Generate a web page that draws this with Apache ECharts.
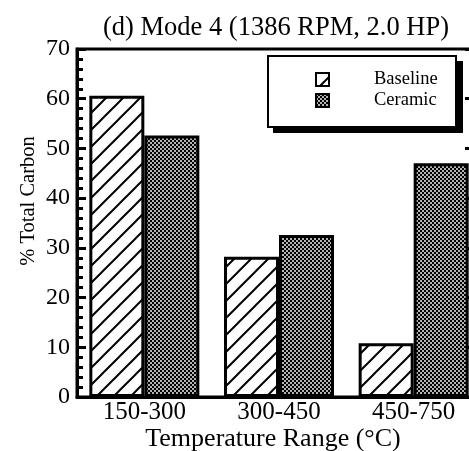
<!DOCTYPE html>
<html>
<head>
<meta charset="utf-8">
<script src="https://cdn.jsdelivr.net/npm/echarts@6/dist/echarts.min.js"></script>
<style>
  html, body { margin: 0; padding: 0; background: #fff; }
  #main { width: 469px; height: 451px; }
</style>
</head>
<body>
<div id="main"></div>
<script>
var categories = ['150-300', '300-450', '450-750'];
var baseline = [60.6, 28.2, 10.8];
var ceramic = [52.6, 32.6, 47.0];
var yTicks = [0, 10, 20, 30, 40, 50, 60, 70];

// hatch pattern for baseline
function hatch() {
    var c = document.createElement('canvas');
    c.width = 17; c.height = 17;
    var g = c.getContext('2d');
    g.fillStyle = '#fff';
    g.fillRect(0, 0, 17, 17);
    g.strokeStyle = '#000';
    g.lineWidth = 2;
    g.beginPath();
    g.moveTo(-2, 19); g.lineTo(19, -2);
    g.moveTo(-2, 2); g.lineTo(2, -2);
    g.moveTo(15, 19); g.lineTo(19, 15);
    g.stroke();
    return c;
}
// dotted pattern for ceramic
function dots() {
    var c = document.createElement('canvas');
    c.width = 4; c.height = 4;
    var g = c.getContext('2d');
    g.fillStyle = '#000';
    g.fillRect(0, 0, 4, 4);
    g.fillStyle = '#b4b4b4';
    g.fillRect(0, 0, 2, 2);
    g.fillRect(2, 2, 2, 2);
    return c;
}

var font = '"Liberation Serif", "Times New Roman", serif';
var myChart = echarts.init(document.getElementById('main'));
var option = {
    animation: false,
    title: {
        text: '(d) Mode 4 (1386 RPM, 2.0 HP)',
        left: 98,
        top: 10,
        textStyle: { fontFamily: font, fontSize: 26.5, fontWeight: 'normal', color: '#000' }
    },
    // legend frame with drop shadow
    graphic: [
        { type: 'rect', z: 10, shape: { x: 273, y: 61, width: 190, height: 72 }, style: { fill: '#000' } },
        { type: 'rect', z: 11, shape: { x: 268, y: 56, width: 188, height: 71 }, style: { fill: '#fff', stroke: '#000', lineWidth: 2 } }
    ],
    legend: {
        orient: 'vertical',
        left: 268,
        top: 56,
        z: 20,
        padding: [14, 22, 27, 47],
        icon: 'rect',
        itemWidth: 13,
        itemHeight: 13,
        itemGap: 2,
        itemStyle: { borderWidth: 2, borderColor: '#000' },
        textStyle: { fontFamily: font, fontSize: 18.5, color: '#000', lineHeight: 15, padding: [0, 0, 0, 40] },
        data: ['Baseline', 'Ceramic']
    },
    grid: {
        left: 77,
        top: 49,
        width: 404,
        height: 348,
        outerBoundsMode: 'none',
        show: true,
        borderColor: '#000',
        borderWidth: 3
    },
    xAxis: {
        type: 'category',
        data: categories,
        name: 'Temperature Range (°C)',
        nameLocation: 'middle',
        nameMoveOverlap: false,
        nameGap: 29,
        nameTextStyle: { fontFamily: font, fontSize: 26, color: '#000', padding: [0, 12, 0, 0] },
        axisLine: { lineStyle: { color: '#000', width: 3 } },
        axisTick: { show: false },
        axisLabel: { fontFamily: font, fontSize: 25, color: '#000', margin: 3 }
    },
    yAxis: [{
        type: 'value',
        min: 0,
        max: 70,
        interval: 10,
        name: '% Total Carbon',
        nameLocation: 'middle',
        nameMoveOverlap: false,
        nameGap: 38,
        nameTextStyle: { fontFamily: font, fontSize: 20.5, color: '#000', padding: [0, 0, 0, 44] },
        axisLine: { show: true, lineStyle: { color: '#000', width: 3 } },
        axisTick: { show: true, inside: true, length: 9, lineStyle: { color: '#000', width: 3 } },
        minorTick: { show: true, splitNumber: 5, length: 6, lineStyle: { color: '#000', width: 3 } },
        splitLine: { show: false },
        axisLabel: {
            fontFamily: font, fontSize: 24, color: '#000', margin: 7,
            formatter: function (v) { return yTicks.indexOf(v) >= 0 ? String(v) : ''; }
        }
    }, {
        type: 'value',
        position: 'right',
        min: 0,
        max: 70,
        interval: 10,
        axisLine: { show: true, lineStyle: { color: '#000', width: 3 } },
        axisTick: { show: true, inside: true, length: 16, lineStyle: { color: '#000', width: 3 } },
        splitLine: { show: false },
        axisLabel: { show: false }
    }],
    series: [
        {
            name: 'Baseline',
            type: 'bar',
            data: baseline,
            barWidth: 55,
            barGap: 0,
            itemStyle: { color: { image: hatch(), repeat: 'repeat' }, borderColor: '#000', borderWidth: 3 }
        },
        {
            name: 'Ceramic',
            type: 'bar',
            data: ceramic,
            barWidth: 55,
            barGap: 0,
            itemStyle: { color: { image: dots(), repeat: 'repeat' }, borderColor: '#000', borderWidth: 3 }
        }
    ]
};
myChart.setOption(option);
</script>
</body>
</html>
